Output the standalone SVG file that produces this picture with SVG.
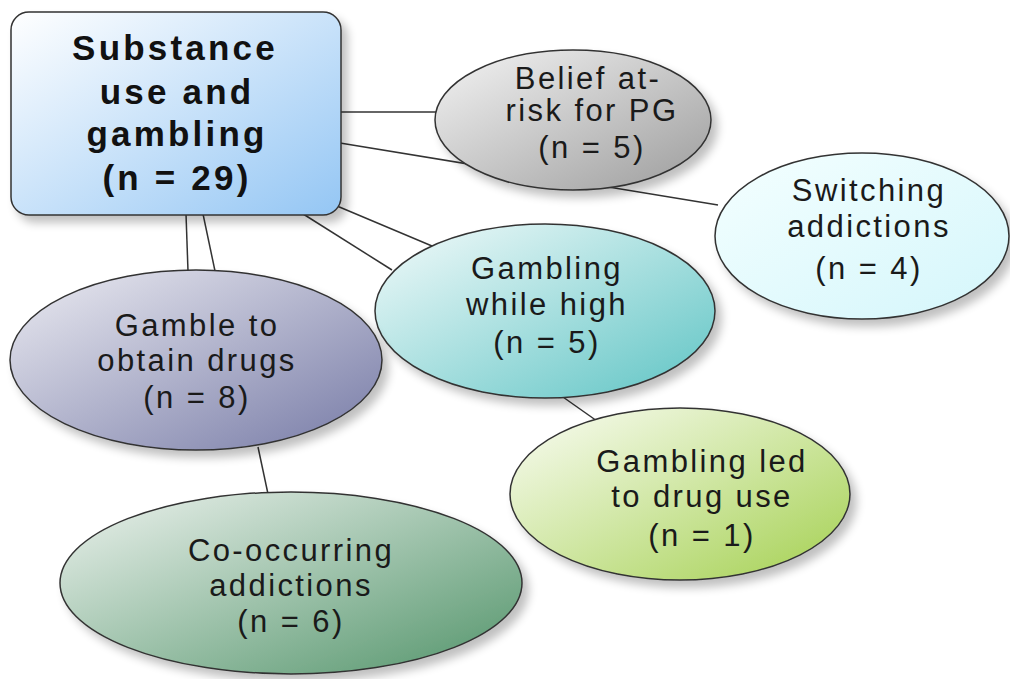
<svg xmlns="http://www.w3.org/2000/svg" width="1010" height="679" viewBox="0 0 1010 679">
<defs>
<linearGradient id="gRect" x1="0" y1="0" x2="1" y2="1"><stop offset="0" stop-color="#ffffff"/><stop offset="1" stop-color="#94c6f4"/></linearGradient>
<linearGradient id="gBelief" x1="0" y1="0" x2="1" y2="1"><stop offset="0" stop-color="#f4f4f4"/><stop offset="1" stop-color="#9c9c9c"/></linearGradient>
<linearGradient id="gSwitch" x1="0" y1="0" x2="1" y2="1"><stop offset="0" stop-color="#f4ffff"/><stop offset="1" stop-color="#d4f6fb"/></linearGradient>
<linearGradient id="gHigh" x1="0" y1="0" x2="1" y2="1"><stop offset="0" stop-color="#f4fbfb"/><stop offset="1" stop-color="#5ec4c4"/></linearGradient>
<linearGradient id="gObtain" x1="0" y1="0" x2="1" y2="1"><stop offset="0" stop-color="#ececf2"/><stop offset="1" stop-color="#767aa6"/></linearGradient>
<linearGradient id="gLed" x1="0" y1="0" x2="1" y2="1"><stop offset="0" stop-color="#fbfdf6"/><stop offset="1" stop-color="#a4d050"/></linearGradient>
<linearGradient id="gCo" x1="0" y1="0" x2="1" y2="1"><stop offset="0" stop-color="#eef3ef"/><stop offset="1" stop-color="#52946a"/></linearGradient>
<filter id="sh" x="-10%" y="-10%" width="125%" height="130%"><feGaussianBlur in="SourceAlpha" stdDeviation="5"/><feOffset dx="6" dy="7"/><feComponentTransfer><feFuncA type="linear" slope="0.25"/></feComponentTransfer><feMerge><feMergeNode/><feMergeNode in="SourceGraphic"/></feMerge></filter>
</defs>
<style>
.n{stroke:#333;stroke-width:1.5;filter:url(#sh)}
.c{stroke:#333;stroke-width:1.5;fill:none}
.t{font-family:"Liberation Sans",Arial,sans-serif;font-size:31px;letter-spacing:2.4px;fill:#1a1a1a;text-anchor:middle}
.tb{font-family:"Liberation Sans",Arial,sans-serif;font-size:35px;letter-spacing:3.2px;font-weight:bold;fill:#111;text-anchor:middle}
</style>
<rect width="1010" height="679" fill="#fff"/>
<g id="connectors">
<line class="c" x1="340" y1="112" x2="437" y2="112"/>
<line class="c" x1="340" y1="143" x2="718" y2="205"/>
<line class="c" x1="318" y1="198" x2="432" y2="246"/>
<line class="c" x1="300" y1="212" x2="392" y2="270"/>
<line class="c" x1="186" y1="214" x2="188" y2="271"/>
<line class="c" x1="203" y1="214" x2="215" y2="271"/>
<line class="c" x1="553" y1="390" x2="597" y2="421"/>
<line class="c" x1="258" y1="447" x2="268" y2="494"/>
</g>
<g id="belief">
<ellipse class="n" cx="573" cy="120" rx="138" ry="70" fill="url(#gBelief)"/>
<text class="t" x="588" y="89">Belief at-</text>
<text class="t" x="592" y="121">risk for PG</text>
<text class="t" x="592" y="158">(n = 5)</text>
</g>
<g id="switching">
<ellipse class="n" cx="862" cy="236" rx="147" ry="83" fill="url(#gSwitch)"/>
<text class="t" x="869" y="201">Switching</text>
<text class="t" x="869" y="237">addictions</text>
<text class="t" x="869" y="279">(n = 4)</text>
</g>
<g id="high">
<ellipse class="n" cx="545" cy="311" rx="170" ry="87" fill="url(#gHigh)"/>
<text class="t" x="547" y="279">Gambling</text>
<text class="t" x="547" y="315">while high</text>
<text class="t" x="547" y="353">(n = 5)</text>
</g>
<g id="obtain">
<ellipse class="n" cx="196" cy="360" rx="186" ry="90" fill="url(#gObtain)"/>
<text class="t" x="197" y="336">Gamble to</text>
<text class="t" x="197" y="371">obtain drugs</text>
<text class="t" x="197" y="408">(n = 8)</text>
</g>
<g id="led">
<ellipse class="n" cx="680" cy="494" rx="170" ry="86" fill="url(#gLed)"/>
<text class="t" x="702" y="472">Gambling led</text>
<text class="t" x="702" y="507">to drug use</text>
<text class="t" x="702" y="546">(n = 1)</text>
</g>
<g id="cooccurring">
<ellipse class="n" cx="291" cy="583" rx="231" ry="91" fill="url(#gCo)"/>
<text class="t" x="291" y="561">Co-occurring</text>
<text class="t" x="291" y="596">addictions</text>
<text class="t" x="291" y="632">(n = 6)</text>
</g>
<g id="substance">
<rect class="n" x="11" y="12" width="330" height="203" rx="18" fill="url(#gRect)"/>
<text class="tb" x="175" y="60">Substance</text>
<text class="tb" x="177" y="104">use and</text>
<text class="tb" x="177" y="146">gambling</text>
<text class="tb" x="177" y="190">(n = 29)</text>
</g>
</svg>
